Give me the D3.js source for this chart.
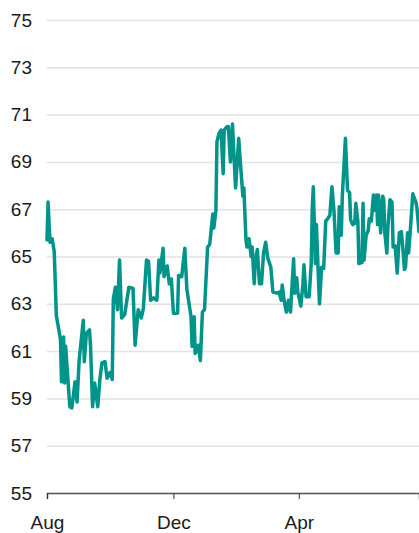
<!DOCTYPE html>
<html>
<head>
<meta charset="utf-8">
<script src="https://cdn.jsdelivr.net/npm/d3@7"></script>
<style>
  body { margin: 0; background: #fff; }
  svg { display: block; font-family: "Liberation Sans", Arial, Helvetica, sans-serif; }
</style>
</head>
<body>
<div id="chart"></div>
<script>
const width = 419;
const height = 533;
const margin = {top: 20, right: 0, bottom: 40, left: 47};

// start of the series, days since start, and values
const startDate = '2021-08-01';
const dayOffsets = [
  0, 1, 2, 3, 5, 7, 9, 13, 14, 16, 17, 18, 22, 24, 27, 29, 31, 35, 36, 38,
  41, 42, 44, 46, 49, 51, 53, 56, 58, 61, 63, 64, 66, 68, 70, 72, 75, 79, 83, 85,
  88, 91, 93, 96, 98, 100, 103, 106, 108, 109, 112, 113, 116, 118, 120, 122, 126, 127, 130, 133,
  135, 139, 140, 142, 143, 146, 148, 150, 152, 155, 157, 160, 161, 163, 164, 166, 168, 170, 171, 174,
  175, 177, 179, 180, 182, 185, 187, 189, 190, 192, 193, 195, 197, 198, 200, 201, 203, 205, 207, 209,
  211, 213, 216, 218, 222, 224, 226, 227, 229, 231, 233, 235, 238, 239, 241, 242, 245, 247, 248, 250,
  253, 255, 256, 257, 259, 260, 262, 263, 265, 267, 269, 271, 273, 275, 277, 279, 281, 282, 284, 285,
  288, 290, 292, 293, 295, 297, 298, 300, 301, 304, 305, 306, 308, 310, 311, 313, 315, 316, 318, 319,
  320, 322, 324, 325, 326, 328, 329, 331, 333, 334, 336, 338, 340, 342, 343, 345, 346, 348, 349, 351,
  353, 356, 357, 359
];
const values = [
  65.7, 67.3, 66.4, 65.6, 65.75, 65.2, 62.5, 61.5, 59.7, 61.6, 59.65, 61.2, 58.65, 58.6, 59.7, 58.85, 60.6, 62.3, 60.55, 61.75,
  61.9, 61.2, 58.65, 59.65, 58.65, 59.8, 60.5, 60.55, 59.85, 60.1, 59.8, 63.2, 63.7, 62.75, 64.85, 62.4, 62.55, 63.7, 63.65, 61.25,
  62.75, 62.4, 62.8, 64.85, 64.8, 63.15, 63.25, 63.15, 64.85, 64.3, 65.35, 64.15, 64.6, 63.85, 64.05, 62.6, 62.6, 64.2, 64.15, 65.35,
  63.6, 62.45, 61.2, 62.45, 60.9, 61.25, 60.6, 62.65, 62.75, 65.4, 65.5, 66.8, 66.2, 66.95, 69.85, 70.2, 70.35, 68.5, 70.35, 70.5,
  70.5, 69.0, 70.6, 69.65, 67.9, 70.0, 68.75, 67.55, 67.9, 65.7, 65.4, 65.75, 65.0, 65.4, 63.85, 64.85, 65.3, 63.85, 63.85, 65.15,
  65.6, 64.95, 64.55, 63.5, 63.45, 63.5, 63.15, 63.8, 63.1, 62.65, 63.15, 62.65, 64.9, 63.45, 64.1, 63.5, 62.9, 63.85, 64.65, 63.3,
  63.3, 64.7, 67.05, 67.95, 64.7, 66.35, 64.0, 63.0, 64.55, 64.5, 66.5, 66.6, 66.75, 67.95, 66.9, 65.15, 65.15, 67.1, 65.9, 67.55,
  70.0, 67.8, 67.7, 66.55, 66.35, 66.4, 67.25, 66.5, 64.7, 64.75, 67.25, 64.85, 65.9, 66.1, 66.6, 66.5, 67.6, 66.95, 67.6, 66.35,
  67.6, 66.0, 67.55, 67.4, 66.0, 65.15, 66.25, 67.4, 67.3, 65.4, 65.45, 64.3, 66.0, 66.05, 65.55, 64.45, 64.55, 66.0, 65.15, 66.35,
  67.65, 67.3, 67.05, 66.05
];
const yTicks = [55, 57, 59, 61, 63, 65, 67, 69, 71, 73, 75];
const xTickDates = ['2021-08-01', '2021-12-01', '2022-04-01'];
const xTickLabels = ['Aug', 'Dec', 'Apr'];

const parse = d3.utcParse('%Y-%m-%d');
const start = parse(startDate);
const data = dayOffsets.map((d, i) => ({date: d3.utcDay.offset(start, d), value: values[i]}));

const svg = d3.select('#chart')
  .append('svg')
  .attr('width', width)
  .attr('height', height);

const x = d3.scaleUtc()
  .domain(d3.extent(data, d => d.date))
  .range([margin.left, width - margin.right]);

const y = d3.scaleLinear()
  .domain([55, 75])
  .range([height - margin.bottom, margin.top]);

// gridlines + y labels
const yAxis = svg.append('g')
  .attr('transform', `translate(${margin.left},0)`)
  .call(d3.axisLeft(y)
    .tickValues(yTicks)
    .tickSize(-(width - margin.left - margin.right))
    .tickPadding(15)
    .tickFormat(d3.format('d')));
yAxis.select('.domain').remove();
yAxis.selectAll('.tick line')
  .attr('stroke', '#e2e2e2')
  .attr('stroke-width', 1.5);
yAxis.selectAll('.tick text')
  .attr('fill', '#1a1a1a')
  .style('font-size', '19px');

// x axis
const xAxis = svg.append('g')
  .attr('transform', `translate(0,${height - margin.bottom})`)
  .call(d3.axisBottom(x)
    .tickValues(xTickDates.map(parse))
    .tickSize(6)
    .tickPadding(17)
    .tickFormat((d, i) => xTickLabels[i]));
xAxis.select('.domain')
  .attr('stroke', '#555')
  .attr('stroke-width', 1.5);
xAxis.selectAll('.tick line')
  .attr('stroke', '#333');
xAxis.selectAll('.tick text')
  .attr('fill', '#1a1a1a')
  .style('font-size', '19px');

const line = d3.line()
  .x(d => x(d.date))
  .y(d => y(d.value));

svg.append('path')
  .datum(data)
  .attr('fill', 'none')
  .attr('stroke', '#00948a')
  .attr('stroke-width', 3.5)
  .attr('stroke-linejoin', 'round')
  .attr('stroke-linecap', 'round')
  .attr('d', line);
</script>
</body>
</html>
